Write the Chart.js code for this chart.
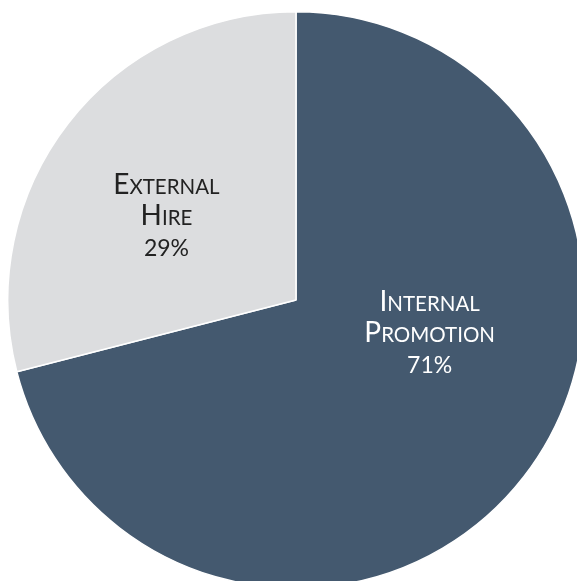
<!DOCTYPE html>
<html>
<head>
<meta charset="utf-8">
<script src="https://cdn.jsdelivr.net/npm/chart.js@4"></script>
<style>
html,body{margin:0;padding:0;background:#fff;overflow:hidden;width:577px;height:581px;}
#wrap{position:absolute;left:0;top:0;width:592px;height:600px;}
</style>
</head>
<body>
<div id="wrap"><canvas id="c" width="592" height="600"></canvas></div>
<script>
const categories = [["Internal", "Promotion"], ["External", "Hire"]];
const values = [71, 29];
const colors = ["#44596f", "#dcdddf"];
const textColors = ["#ffffff", "#222222"];
// label anchor: angle (deg, canvas coords) and distance as fraction of radius
const labelAnchors = [{angle: 15, frac: 0.48}, {angle: 212, frac: 0.53}];

const FONT = "Lato, 'Open Sans', sans-serif";
const WEIGHT = "400 ";

function drawSmallCaps(ctx, word, cx, baseline, big, small) {
  const first = word[0].toUpperCase();
  const rest = word.slice(1).toUpperCase();
  ctx.font = WEIGHT + big + "px " + FONT;
  const w1 = ctx.measureText(first).width;
  ctx.font = WEIGHT + small + "px " + FONT;
  const w2 = ctx.measureText(rest).width;
  const x0 = cx - (w1 + w2) / 2;
  ctx.textAlign = "left";
  ctx.textBaseline = "alphabetic";
  ctx.font = WEIGHT + big + "px " + FONT;
  ctx.fillText(first, x0, baseline);
  ctx.font = WEIGHT + small + "px " + FONT;
  ctx.fillText(rest, x0 + w1, baseline);
}

const labelPlugin = {
  id: "sliceLabels",
  afterDatasetsDraw(chart) {
    const ctx = chart.ctx;
    const meta = chart.getDatasetMeta(0);
    const total = values.reduce((a, b) => a + b, 0);
    meta.data.forEach((arc, i) => {
      const a = labelAnchors[i];
      const r = arc.outerRadius * a.frac;
      const cx = arc.x + r * Math.cos(a.angle * Math.PI / 180);
      const cy = arc.y + r * Math.sin(a.angle * Math.PI / 180);
      ctx.save();
      ctx.fillStyle = textColors[i];
      const lines = categories[i];
      const lh = 31;
      const n = lines.length + 1;
      const firstBase = cy - (n - 1) * lh / 2 + 6;
      lines.forEach((w, k) => drawSmallCaps(ctx, w, cx, firstBase + k * lh, 28, 20.5));
      ctx.font = WEIGHT + "23px " + FONT;
      ctx.textAlign = "center";
      ctx.textBaseline = "alphabetic";
      ctx.fillText(Math.round(values[i] / total * 100) + "%", cx, firstBase + lines.length * lh);
      ctx.restore();
    });
  }
};

new Chart(document.getElementById("c"), {
  type: "pie",
  data: {
    labels: categories.map(c => c.join(" ")),
    datasets: [{
      data: values,
      backgroundColor: colors,
      borderColor: "#ffffff",
      borderWidth: 1.5
    }]
  },
  options: {
    responsive: false,
    animation: false,
    layout: {padding: {left: 7, right: 7, top: 11, bottom: 11}},
    plugins: {legend: {display: false}, tooltip: {enabled: false}}
  },
  plugins: [labelPlugin]
});
</script>
</body>
</html>
